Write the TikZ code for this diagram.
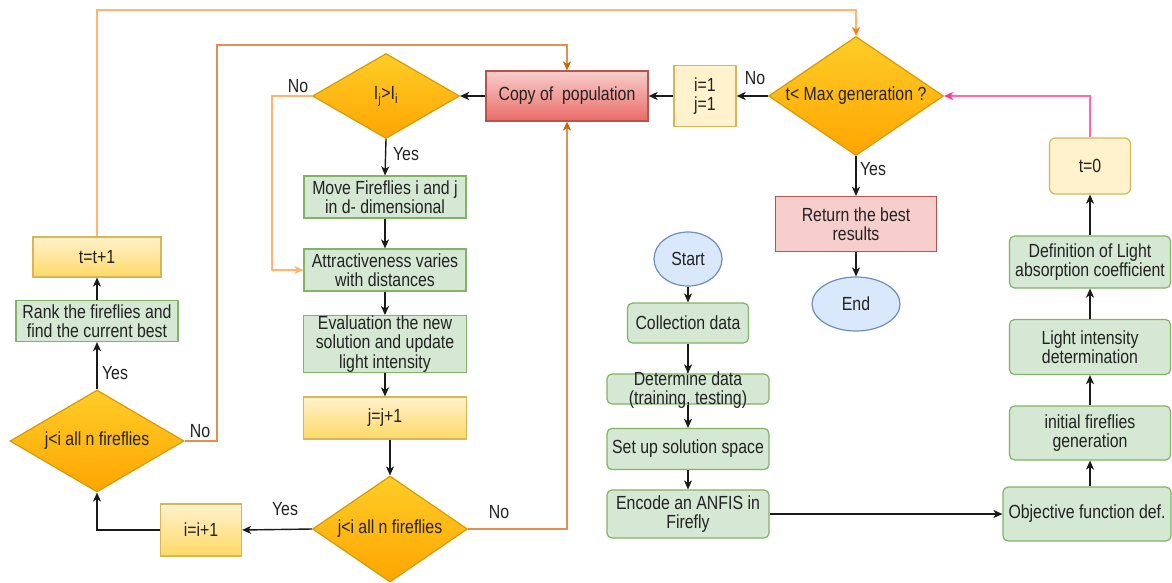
\documentclass[tikz,border=0pt]{standalone}
\usepackage{fontspec}
\setmainfont{Liberation Sans}[FakeStretch=0.835]
\usetikzlibrary{shapes.geometric,arrows.meta}

\definecolor{txt}{HTML}{222222}
\definecolor{gfill}{HTML}{D5E8D4}
\definecolor{gdraw}{HTML}{82B366}
\definecolor{ytop}{HTML}{FFF2CC}
\definecolor{ybot}{HTML}{FFD966}
\definecolor{ydraw}{HTML}{D6B656}
\definecolor{otop}{HTML}{FFCD28}
\definecolor{obot}{HTML}{FFA500}
\definecolor{odraw}{HTML}{D79B00}
\definecolor{rtop}{HTML}{F8CECC}
\definecolor{rbot}{HTML}{EA6B66}
\definecolor{rdraw}{HTML}{B85450}
\definecolor{bfill}{HTML}{DAE8FC}
\definecolor{bdraw}{HTML}{6C8EBF}
\definecolor{lorange}{HTML}{FFB570}
\definecolor{orangetip}{HTML}{FF8000}
\definecolor{dorange}{HTML}{E0914F}
\definecolor{dorangetip}{HTML}{CC6600}
\definecolor{pinkline}{HTML}{FF66B3}
\definecolor{pinktip}{HTML}{FF3399}
\definecolor{ln}{HTML}{1A1A1A}

\begin{document}
\begin{tikzpicture}[x=1pt,y=-1pt,
  every node/.style={font=\fontsize{19}{19.5}\selectfont, text=txt, align=center, inner sep=0pt},
  sz/.style 2 args={minimum width=#1pt, minimum height=#2pt},
  shp/.style={line width=1.2pt},
  gbox/.style={shp, rectangle, draw=gdraw, fill=gfill},
  rgbox/.style={gbox, rounded corners=5pt},
  ygrad/.style={shp, rectangle, draw=ydraw, top color=ytop, bottom color=ybot},
  ybox/.style={shp, rectangle, draw=ydraw, fill=ytop},
  dia/.style={shp, diamond, draw=odraw, top color=otop, bottom color=obot},
  rgrad/.style={shp, rectangle, draw=rdraw, top color=rtop, bottom color=rbot},
  rbox/.style={shp, rectangle, draw=rdraw, fill=rtop},
  ell/.style={shp, ellipse, draw=bdraw, fill=bfill},
  con/.style={draw=ln, line width=1.4pt, -{Stealth[length=9pt,width=8pt,inset=2.5pt]}},
  lcon/.style={draw=lorange, line width=1.4pt, -{Stealth[length=9pt,width=8pt,inset=2.5pt,color=#1]}},
  dcon/.style={draw=dorange, line width=1.4pt, -{Stealth[length=9pt,width=8pt,inset=2.5pt,color=dorangetip]}},
  pcon/.style={draw=pinkline, line width=1.4pt, -{Stealth[length=9pt,width=8pt,inset=2.5pt,color=pinktip]}},
  lab/.style={text=txt}
]
\fill[white] (0,0) rectangle (1172,582);
\useasboundingbox (0,0) rectangle (1172,582);

% ---- main loop nodes
\node[rgrad, sz={162}{50}] (copy) at (567,96) {Copy of~ population};
\node[dia, sz={147}{85}, aspect=1.73] (ij) at (386,96) {I\textsubscript{j}>I\textsubscript{i}};
\node[gbox, sz={162}{42}] (move) at (385,197) {Move Fireflies i and j\\in d- dimensional};
\node[gbox, sz={162}{42}] (attr) at (385,270) {Attractiveness varies\\with distances};
\node[gbox, sz={163}{55}] (eval) at (385,344) {Evaluation the new\\solution and update\\light intensity};
\node[ygrad, sz={163}{42}] (jj) at (385,418) {j=j+1};
\node[dia, sz={155}{106}, aspect=1.46] (d2) at (390,529) {j<i all n fireflies};
\node[ygrad, sz={81}{52}] (ii) at (201,530) {i=i+1};
\node[dia, sz={174}{102}, aspect=1.7] (d1) at (97,441) {j<i all n fireflies};
\node[gbox, sz={162}{41}] (rank) at (97,321) {Rank the fireflies and\\find the current best};
\node[ygrad, sz={128}{40}] (tt) at (97,257) {t=t+1};

% ---- top right
\node[dia, sz={175}{119}, aspect=1.47] (max) at (856,96) {t< Max generation ?};
\node[ybox, sz={62}{61}] (i1) at (705,96) {i=1\\j=1};
\node[rbox, sz={161}{55}] (ret) at (856,224) {Return the best\\results};
\node[ell, sz={88}{54}] (end) at (856,304) {End};

% ---- initialisation column
\node[ell, sz={68}{54}] (start) at (688,259) {Start};
\node[rgbox, sz={121}{40}] (coll) at (688,323) {Collection data};
\node[rgbox, sz={162}{30}] (det) at (688,389) {};
\node (dettext) at (688,390) {Determine data\\(training, testing)};
\node[rgbox, sz={162}{41}] (setup) at (688,449) {Set up solution space};
\node[rgbox, sz={162}{48}] (enc) at (688,514) {Encode an ANFIS in\\Firefly};

% ---- right column
\node[rgbox, sz={168}{54}] (obj) at (1087,514) {Objective function def.};
\node[rgbox, sz={161}{54}] (init) at (1090,433) {initial fireflies\\generation};
\node[rgbox, sz={161}{55}] (light) at (1090,347) {Light intensity\\determination};
\node[rgbox, sz={161}{52}] (def) at (1090,262) {Definition of Light\\absorption coefficient};
\node[shp, rectangle, rounded corners=6pt, draw=ydraw, fill=ytop, sz={81}{56}] (t0) at (1090,166) {t=0};

% ---- helper coordinates
\coordinate (toprow) at (0,10);
\coordinate (c217) at (217,45);
\coordinate (c272) at (272,0);

% ---- connectors
\draw[con] (max.west) -- (i1.east);
\draw[con] (i1.west) -- (copy.east);
\draw[con] (copy.west) -- (ij.east);
\draw[con] (ij.south) -- (move.north);
\draw[con] (move.south) -- (attr.north);
\draw[con] (attr.south) -- (eval.north);
\draw[con] (eval.south) -- (jj.north);
\draw[con] (jj.south -| d2.north) -- (d2.north);
\draw[con] (d2.west) -- (ii.east);
\draw[con] (ii.west) -| (d1.south);
\draw[con] (d1.north) -- (rank.south);
\draw[con] (rank.north) -- (tt.south);
\draw[con] (max.south) -- (ret.north);
\draw[con] (ret.south) -- (end.north);
\draw[con] (start.south) -- (coll.north);
\draw[con] (coll.south) -- (det.north);
\draw[con] (det.south) -- (setup.north);
\draw[con] (setup.south) -- (enc.north);
\draw[con] (enc.east) -- (obj.west);
\draw[con] (init.south |- obj.north) -- (init.south);
\draw[con] (init.north) -- (light.south);
\draw[con] (light.north) -- (def.south);
\draw[con] (def.north) -- (t0.south);

\draw[lcon=orangetip] (tt.north) -- (tt.north |- toprow) -| (max.north);
\draw[dcon] (d1.east) -| (c217) -| (copy.north);
\draw[dcon] (d2.east) -| (copy.south);
\draw[lcon=lorange] (ij.west) -- (ij.west -| c272) |- (attr.west);
\draw[pcon] (t0.north) |- (max.east);

% ---- labels
\node[lab] (l1) at (755,78) {No};
\node[lab] (l2) at (873,169) {Yes};
\node[lab] (l3) at (298,86) {No};
\node[lab] (l4) at (406,154) {Yes};
\node[lab] (l5) at (115,373) {Yes};
\node[lab] (l6) at (200,431) {No};
\node[lab] (l7) at (285,509) {Yes};
\node[lab] (l8) at (499,512) {No};
\end{tikzpicture}
\end{document}
